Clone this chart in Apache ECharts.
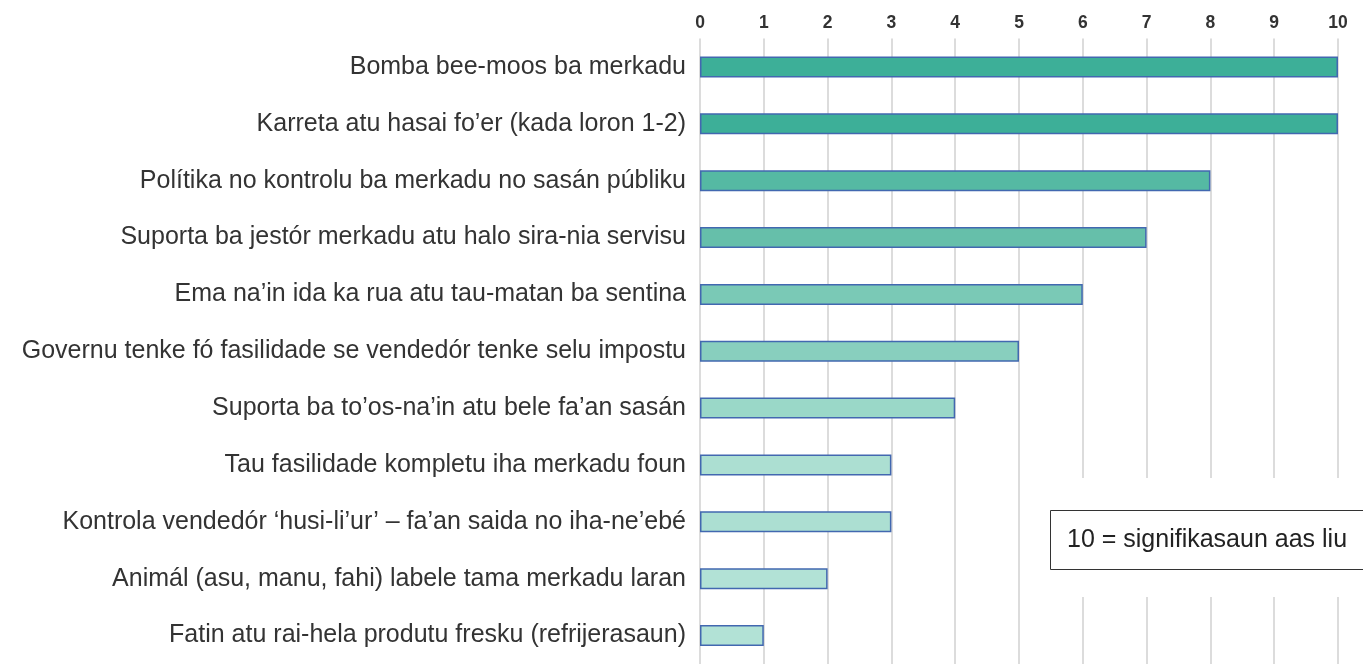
<!DOCTYPE html>
<html>
<head>
<meta charset="utf-8">
<script src="https://cdn.jsdelivr.net/npm/echarts@6/dist/echarts.min.js"></script>
<style>
html,body{margin:0;padding:0;background:#fff;}
#chart{width:1363px;height:664px;}
</style>
</head>
<body>
<div id="chart"></div>
<script>
const categories = [
  "Bomba bee-moos ba merkadu",
  "Karreta atu hasai fo\u2019er (kada loron 1-2)",
  "Pol\u00edtika no kontrolu ba merkadu no sas\u00e1n p\u00fabliku",
  "Suporta ba jest\u00f3r merkadu atu halo sira-nia servisu",
  "Ema na\u2019in ida ka rua atu tau-matan ba sentina",
  "Governu tenke f\u00f3 fasilidade se vended\u00f3r tenke selu impostu",
  "Suporta ba to\u2019os-na\u2019in atu bele fa\u2019an sas\u00e1n",
  "Tau fasilidade kompletu iha merkadu foun",
  "Kontrola vended\u00f3r \u2018husi-li\u2019ur\u2019 \u2013 fa\u2019an saida no iha-ne\u2019eb\u00e9",
  "Anim\u00e1l (asu, manu, fahi) labele tama merkadu laran",
  "Fatin atu rai-hela produtu fresku (refrijerasaun)"
];
const values = [10, 10, 8, 7, 6, 5, 4, 3, 3, 2, 1];
const tickLabels = ["0","1","2","3","4","5","6","7","8","9","10"];
const noteText = "10 = signifikasaun aas liu";

// styling (colour per bar)
const barColors = ["#3DAF98","#3DAF98","#55B9A3","#66BFAA","#7AC9B6","#88CFBE","#9AD8C8","#ACDFD2","#ACDFD2","#B2E2D6","#B2E2D6"];

const chart = echarts.init(document.getElementById('chart'), null, {renderer:'canvas'});
const option = {
  animation: false,
  backgroundColor: '#fff',
  grid: { left: 700, right: 25, top: 38.5, bottom: -1.5, containLabel: false },
  xAxis: {
    type: 'value', position: 'top', min: 0, max: 10, interval: 1,
    axisLine: { show: false }, axisTick: { show: false },
    axisLabel: {
      formatter: (v) => tickLabels[Math.round(v)],
      color: '#333', fontFamily: 'Liberation Sans, Arial, sans-serif',
      fontWeight: 'bold', fontSize: 17.5, margin: 6
    },
    splitLine: { show: true, lineStyle: { color: '#d0d0d0', width: 1.5 } }
  },
  yAxis: {
    type: 'category', inverse: true, data: categories,
    axisLine: { show: false }, axisTick: { show: false },
    axisLabel: {
      color: '#333', fontFamily: 'Liberation Sans, Arial, sans-serif',
      fontSize: 25, margin: 14
    }
  },
  series: [{
    type: 'bar',
    data: values.map((v, i) => ({ value: v, itemStyle: { color: barColors[i] } })),
    barWidth: 21,
    itemStyle: { borderColor: '#4268B0', borderWidth: 1.5 },
    z: 3
  }],
  graphic: [
    { type: 'rect', left: 1030, top: 478, shape: { width: 340, height: 119 },
      style: { fill: '#fff' }, z: 10 },
    { type: 'rect', left: 1050, top: 510, shape: { width: 330, height: 59 },
      style: { fill: '#fff', stroke: '#333', lineWidth: 1 }, z: 11 },
    { type: 'text', left: 1067, top: 528,
      style: { text: noteText, fill: '#222', font: '25px Liberation Sans, Arial, sans-serif' }, z: 12 }
  ]
};
chart.setOption(option);
</script>
</body>
</html>
